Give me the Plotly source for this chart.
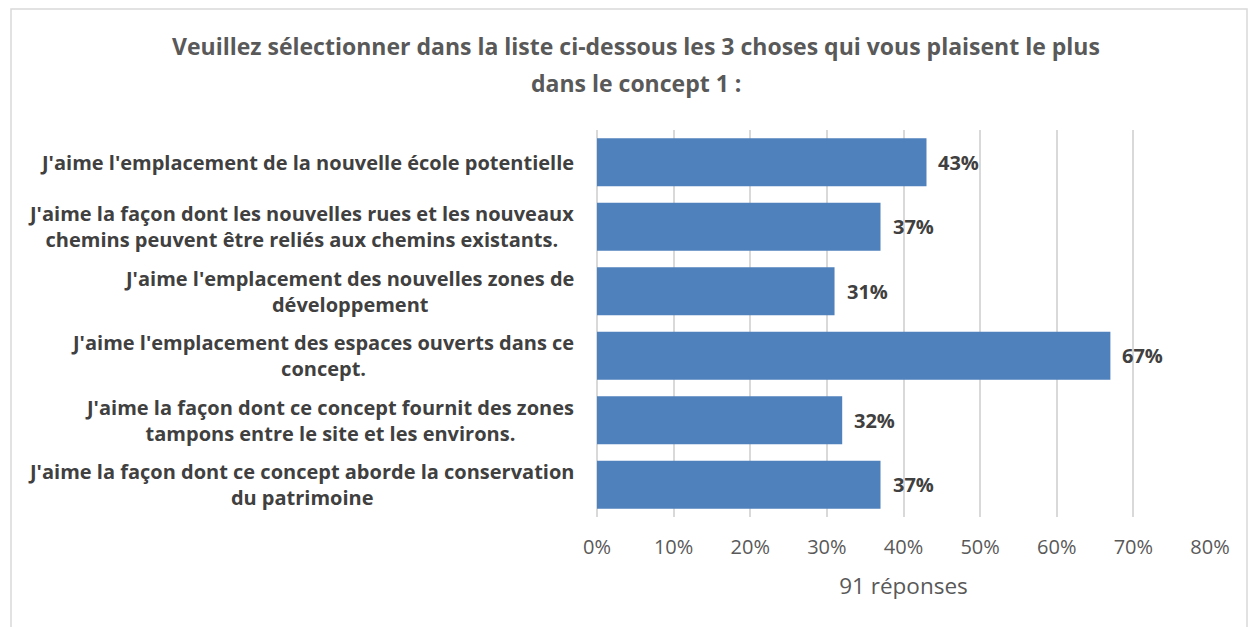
import plotly.graph_objects as go

title_lines = [
    "Veuillez sélectionner dans la liste ci-dessous les 3 choses qui vous plaisent le plus",
    "dans le concept 1 :",
]
categories = [
    "J'aime l'emplacement de la nouvelle école potentielle",
    "J'aime la façon dont les nouvelles rues et les nouveaux<br>chemins peuvent être reliés aux chemins existants.",
    "J'aime l'emplacement des nouvelles zones de<br>développement",
    "J'aime l'emplacement des espaces ouverts dans ce<br>concept.",
    "J'aime la façon dont ce concept fournit des zones<br>tampons entre le site et les environs.",
    "J'aime la façon dont ce concept aborde la conservation<br>du patrimoine",
]
values = [43, 37, 31, 67, 32, 37]
tick_vals = [0, 10, 20, 30, 40, 50, 60, 70, 80]
tick_text = ["0%", "10%", "20%", "30%", "40%", "50%", "60%", "70%", "80%"]
x_title = "91 réponses"

FONT = "Open Sans"
BLUE = "#4F81BD"
DARK = "#404040"
GREY = "#595959"

fig = go.Figure()
fig.add_trace(go.Bar(
    x=values, y=categories, orientation="h",
    marker=dict(color=BLUE, line=dict(width=0)),
    width=0.745, hoverinfo="skip",
))

annotations = []
# value labels
for c, v in zip(categories, values):
    annotations.append(dict(
        x=v, y=c, xref="x", yref="y", text=f"<b>{v}%</b>",
        showarrow=False, xanchor="left", xshift=10,
        font=dict(family=FONT, size=20, color=DARK),
    ))

# category labels (centred lines, block right-aligned)
for c in categories:
    annotations.append(dict(
        x=0, y=c, xref="paper", yref="y", text=f"<b>{c}</b>",
        showarrow=False, xanchor="right", xshift=-21,
        align="center",
        font=dict(family=FONT, size=20, color=DARK),
    ))

# title lines
plot_h = 387
for ypix, t in zip([46, 83], title_lines):
    annotations.append(dict(
        x=0.0636, y=(517 - ypix) / plot_h, xref="paper", yref="paper",
        text=f"<b>{t}</b>", showarrow=False, xanchor="center", yanchor="middle",
        font=dict(family=FONT, size=23, color=GREY),
    ))

fig.update_layout(
    width=1248, height=627,
    margin=dict(l=597, r=38, t=130, b=110),
    paper_bgcolor="white", plot_bgcolor="white",
    showlegend=False,
    annotations=annotations,
    font=dict(family=FONT, color=GREY),
    xaxis=dict(
        range=[0, 80], tickvals=tick_vals, ticktext=tick_text,
        showgrid=True, gridcolor="#D9D9D9", gridwidth=1.6,
        zeroline=True, zerolinecolor="#D9D9D9", zerolinewidth=1.6,
        showline=False, ticks="",
        tickfont=dict(family=FONT, size=20, color=GREY),
        ticklabelstandoff=16,
        title=dict(text=x_title, font=dict(family=FONT, size=22.5, color=GREY), standoff=19),
        fixedrange=True,
    ),
    yaxis=dict(
        autorange="reversed", showticklabels=False, showgrid=False,
        zeroline=False, showline=False, ticks="", fixedrange=True,
    ),
    shapes=[dict(
        type="rect", xref="paper", yref="paper",
        x0=(11 - 597) / 613, x1=(1247 - 597) / 613,
        y0=(517 - 640) / 387, y1=(517 - 9) / 387,
        line=dict(color="#D9D9D9", width=1.5), fillcolor="rgba(0,0,0,0)",
        layer="below",
    )],
)

fig.write_html("out.html", config=dict(displayModeBar=False),
               post_script="document.body.style.margin='0';document.body.style.overflow='hidden';")
